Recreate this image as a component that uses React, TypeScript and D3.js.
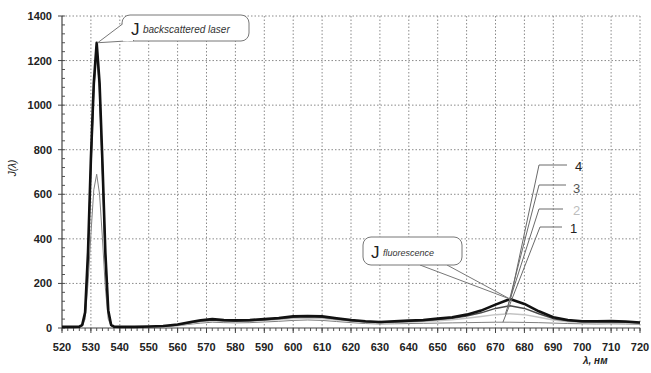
import React from "react";
import * as d3 from "d3";

const wavelengths = [520, 524, 526, 527, 528, 529, 530, 531, 532, 533, 534, 535, 536, 537, 538, 540, 545, 550, 555, 560, 565, 568, 572, 576, 580, 585, 590, 595, 600, 605, 610, 615, 620, 625, 630, 635, 640, 645, 650, 655, 660, 665, 670, 675, 680, 685, 690, 695, 700, 705, 710, 715, 720];

const series4 = [5, 5, 6, 14, 70, 340, 760, 1100, 1280, 1100, 740, 340, 80, 14, 6, 5, 5, 7, 9, 16, 28, 35, 40, 36, 34, 36, 40, 45, 52, 54, 52, 44, 36, 30, 27, 30, 33, 36, 42, 48, 60, 78, 105, 130, 108, 75, 48, 36, 30, 30, 31, 29, 25];
const series3 = [4, 4, 5, 12, 62, 320, 740, 1080, 1265, 1080, 720, 320, 72, 12, 5, 4, 4, 6, 8, 14, 25, 31, 36, 33, 31, 33, 37, 42, 48, 50, 48, 40, 33, 28, 25, 27, 30, 33, 38, 44, 54, 68, 88, 100, 88, 64, 42, 32, 28, 27, 28, 26, 23];
const series2 = [4, 4, 5, 10, 55, 300, 710, 1050, 1240, 1040, 690, 300, 65, 10, 5, 4, 4, 5, 7, 12, 22, 27, 32, 30, 28, 30, 33, 38, 43, 45, 43, 36, 30, 25, 22, 24, 26, 29, 33, 37, 44, 52, 60, 64, 60, 48, 36, 28, 25, 24, 25, 23, 21];
const series1 = [3, 3, 4, 8, 40, 200, 420, 620, 690, 600, 400, 180, 40, 8, 4, 3, 3, 4, 6, 10, 18, 22, 26, 24, 23, 24, 27, 30, 34, 36, 34, 29, 24, 20, 18, 19, 20, 21, 22, 23, 24, 25, 26, 26, 25, 24, 22, 20, 19, 18, 19, 18, 17];

const xTicks = [520, 530, 540, 550, 560, 570, 580, 590, 600, 610, 620, 630, 640, 650, 660, 670, 680, 690, 700, 710, 720];
const yTicks = [0, 200, 400, 600, 800, 1000, 1200, 1400];
const seriesNames = ["1", "2", "3", "4"];
const peakWavelength = 675;

export default function App() {
  const W = 651, H = 373;
  const left = 62, right = 640, top = 16, bottom = 328;
  const x = d3.scaleLinear().domain([520, 720]).range([left, right]);
  const y = d3.scaleLinear().domain([0, 1400]).range([bottom, top]);

  const all = [series1, series2, series3, series4];
  const styles = [
    { stroke: "#808080", width: 1 },
    { stroke: "#c4c4c4", width: 1.5 },
    { stroke: "#4a4a4a", width: 1.5 },
    { stroke: "#111", width: 2.6 },
  ];
  const labelColors = ["#222", "#bdbdbd", "#555", "#222"];

  const line = d3
    .line<number>()
    .x((_, i) => x(wavelengths[i]))
    .y((d) => y(d))
    .curve(d3.curveLinear);

  const minorX = d3.range(520, 721, 2);
  const minorY = d3.range(0, 1401, 40);

  const pi = wavelengths.indexOf(peakWavelength);
  const leaderY = [227, 209, 185, 165];
  const leaderX0 = [540, 539, 539, 539];
  const leaderX1 = [562, 563, 566, 567];
  const labelBase = [233, 215, 193, 171];
  const labelX = [570, 573, 573, 575];

  const laserIdx = wavelengths.indexOf(532);
  const lx = x(532), ly = y(series4[laserIdx]);
  const fx = x(peakWavelength), fy = y(series4[pi]);

  return (
    <svg width={W} height={H} style={{ position: "absolute", left: 0, top: 0, background: "#fff" }} fontFamily="Arial, 'Liberation Sans', sans-serif">
      {xTicks.slice(1).map((t) => (
        <line key={"gx" + t} x1={x(t)} x2={x(t)} y1={top} y2={bottom} stroke="#8a8a8a" strokeWidth={1} strokeDasharray="1.5,2" />
      ))}
      {yTicks.slice(1).map((t) => (
        <line key={"gy" + t} x1={left} x2={right} y1={y(t)} y2={y(t)} stroke="#8a8a8a" strokeWidth={1} strokeDasharray="1.5,2" />
      ))}
      {minorX.map((t) => (
        <line key={"mx" + t} x1={x(t)} x2={x(t)} y1={bottom} y2={bottom + 3} stroke="#555" strokeWidth={1} />
      ))}
      {minorY.map((t) => (
        <line key={"my" + t} x1={left} x2={left + 3} y1={y(t)} y2={y(t)} stroke="#555" strokeWidth={1} />
      ))}
      {xTicks.map((t) => (
        <line key={"tx" + t} x1={x(t)} x2={x(t)} y1={bottom} y2={bottom + 5} stroke="#444" strokeWidth={1} />
      ))}
      {yTicks.map((t) => (
        <line key={"ty" + t} x1={left - 4} x2={left} y1={y(t)} y2={y(t)} stroke="#444" strokeWidth={1} />
      ))}
      <line x1={left} x2={left} y1={top} y2={bottom} stroke="#444" strokeWidth={1.2} />
      <line x1={left} x2={right} y1={bottom} y2={bottom} stroke="#444" strokeWidth={1.2} />
      {xTicks.map((t) => (
        <text key={"lx" + t} x={x(t)} y={bottom + 23} textAnchor="middle" fontSize={11} fontWeight="bold" fill="#222">{t}</text>
      ))}
      {yTicks.map((t) => (
        <text key={"ly" + t} x={52} y={y(t) + 4} textAnchor="end" fontSize={11} fontWeight="bold" fill="#222">{t}</text>
      ))}
      <text transform={`translate(16,168) rotate(-90)`} textAnchor="middle" fontSize={10} fontStyle="italic" fill="#222">J(λ)</text>
      <text x={583} y={364} fontSize={10} fontWeight="bold" fontStyle="italic" fill="#222">λ, нм</text>

      {all.map((s, k) => (
        <path key={"s" + k} d={line(s) || ""} fill="none" stroke={styles[k].stroke} strokeWidth={styles[k].width} strokeLinejoin="round" />
      ))}

      {all.map((s, k) => (
        <polyline key={"ld" + k}
          points={`${x(wavelengths[pi]) + k * 2.5 - 7},${y(s[pi])} ${leaderX0[k]},${leaderY[k]} ${leaderX1[k]},${leaderY[k]}`}
          fill="none" stroke="#6a6a6a" strokeWidth={1} />
      ))}
      {seriesNames.map((n, k) => (
        <text key={"ln" + k} x={labelX[k]} y={labelBase[k]} fontSize={13} fill={labelColors[k]}>{n}</text>
      ))}

      <rect x={122} y={15} width={127} height={26} rx={8} fill="#fff" stroke="#777" strokeWidth={1} />
      <path d={`M122.5,24 L${lx + 1},${ly} L134,40.5`} fill="#fff" stroke="#777" strokeWidth={1} />
      <line x1={123} x2={133} y1={40.5} y2={40.5} stroke="#fff" strokeWidth={1.5} />
      <text x={131} y={35} fontSize={17} fill="#222">J</text>
      <text x={143} y={33} fontSize={10} fontStyle="italic" fill="#333">backscattered laser</text>

      <line x1={420} y1={265} x2={fx} y2={fy} stroke="#777" strokeWidth={1} />
      <line x1={447} y1={265} x2={fx} y2={fy} stroke="#777" strokeWidth={1} />
      <rect x={363} y={237} width={99} height={28} rx={8} fill="#fff" stroke="#777" strokeWidth={1} />
      <text x={371} y={258} fontSize={17} fill="#222">J</text>
      <text x={383} y={256} fontSize={9} fontStyle="italic" fill="#333">fluorescence</text>
    </svg>
  );
}
